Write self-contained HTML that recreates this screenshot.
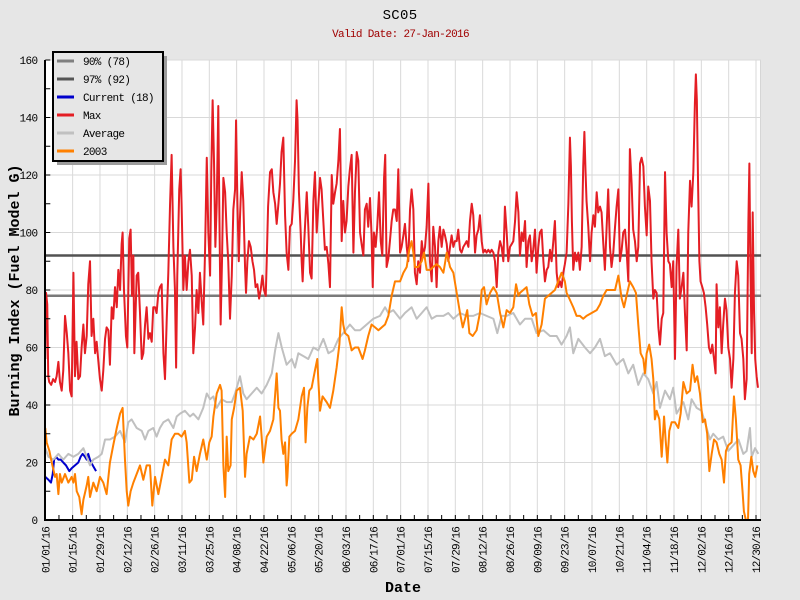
<!DOCTYPE html>
<html><head><meta charset="utf-8"><style>html,body{margin:0;padding:0;background:#e6e6e6;}svg{display:block;}</style></head><body>
<svg xmlns="http://www.w3.org/2000/svg" width="800" height="600" viewBox="0 0 800 600" font-family="'Liberation Mono', monospace">
<rect width="800" height="600" fill="#e6e6e6"/>
<rect x="45" y="60" width="716" height="460" fill="#ffffff"/>
<line x1="760.5" y1="60" x2="760.5" y2="520" stroke="#d6d6d6" stroke-width="1"/>
<g transform="translate(45.3,520) scale(1.9525,-2.875)" fill="none">
<path vector-effect="non-scaling-stroke" stroke="#d9d9d9" stroke-width="1" d="M0,20H366.6M0,40H366.6M0,60H366.6M0,80H366.6M0,100H366.6M0,120H366.6M0,140H366.6M0,160H366.6M14,0V160M28,0V160M42,0V160M56,0V160M70,0V160M84,0V160M98,0V160M112,0V160M126,0V160M140,0V160M154,0V160M168,0V160M182,0V160M196,0V160M210,0V160M224,0V160M238,0V160M252,0V160M266,0V160M280,0V160M294,0V160M308,0V160M322,0V160M336,0V160M350,0V160M364,0V160"/>
<path vector-effect="non-scaling-stroke" stroke="#7a7a7a" stroke-width="2.5" d="M-0.2,78H366.6"/>
<path vector-effect="non-scaling-stroke" stroke="#525252" stroke-width="2.5" d="M-0.2,92H366.6"/>
<polyline vector-effect="non-scaling-stroke" stroke="#0000cc" stroke-width="2" stroke-linejoin="round" points="0,15 1.6,14 2.9,13 3.8,16 4.5,21 5.5,22 6.7,21 7.9,21 9.2,20 10.6,19 12.3,17 13.5,18 15.2,19 16.9,20 18.1,22 19.1,23 20.3,22 21.2,21 22,23 22.9,21 24.3,19 26,17"/>
<polyline vector-effect="non-scaling-stroke" stroke="#e41e24" stroke-width="2" stroke-linejoin="round" points="0,56 0.4,79 1,75 1.5,50 2,48 3,47 4,49 5,48 5.8,50 6.7,55 7.5,48 8.4,45 9.2,52 10.1,71 11,65 11.8,58 12.7,45 13.5,43 14.4,86 15.2,50 16,62 16.9,49 17.8,50 18.6,60 19.5,68 20.3,58 21.2,64 22,82 22.9,90 23.7,64 24.6,70 25.5,58 26.3,62 27.2,55 28,49 28.9,45 29.7,52 30.6,63 31.4,67 32.3,66 33.1,54 34,74 34.8,70 35.7,81 36.6,74 37.4,87 38.3,80 39.1,96 39.6,100 40.3,80 41.3,64 42,60 43,98 43.7,101 44.4,78 45.1,92 45.6,58 46.8,85 47.6,86 48.5,72 49.4,56 50.2,58 51.1,68 51.9,74 52.8,63 53.6,65 54.5,62 55.3,74 56.2,74 57,72 57.9,79 58.7,81 59.6,82 60.5,58 61.3,49 62.2,70 63,86 63.9,110 64.7,127 65.6,95 66.4,80 67,53 67.6,85 68.6,115 69.3,122 69.8,110 70.7,80 71.5,92 72.4,80 73.3,90 74.1,94 75,85 75.8,58 76.7,67 77.5,80 78.4,72 79.2,86 80.1,76 80.9,68 81.8,93 82.7,126 83.5,100 84.4,85 85,121 85.7,146 86.4,125 87.1,95 87.8,110 88.6,144 89.1,110 89.8,68 90.5,90 91.2,119 92.1,114 92.9,100 93.7,90 94.6,70 95.5,85 96.3,108 97.2,115 97.7,139 98.4,110 99.1,90 99.7,105 100.6,121 101.4,111 102.3,88 102.8,79 103.5,90 104.3,97 105.2,95 106.1,90 106.9,87 107.7,81 108.6,82 109.5,77 110.3,80 111.2,85 112,80 112.9,78 113.4,90 114.1,109 115.1,121 116,122 116.8,114 117.7,110 118.5,103 119.4,110 120.2,117 121,128 121.9,133 122.8,106 123.6,93 124.5,87 125.3,102 126.2,103 127,111 127.9,125 128.7,146 129.2,139 129.9,114 130.8,100 131.3,90 131.8,83 132.5,95 133,102 133.9,114 134.7,102 135.6,86 136.4,84 137.3,111 138.1,121 139,100 139.8,109 140.7,119 141.5,115 142.4,104 143.2,94 144.1,95 145,89 145.8,81 146.7,120 147.5,110 148.4,114 149.2,117 150.1,125 150.9,136 151.8,97 152.6,111 153.5,100 154.3,104 155.2,116 156,122 156.9,127 157.8,93 158.6,114 159.5,128 160.3,125 161.2,100 162,96 162.9,92 163.7,108 164.6,110 165.4,102 166.3,112 167.1,99 167.7,81 168.3,100 169.2,95 170,102 170.9,114 171.8,97 172.6,92 173.5,119 174.1,127 174.8,88 175.7,91 176.5,97 177.4,104 178.2,108 179.1,108 180,104 180.8,122 181.7,93 182.5,95 183.4,99 184.2,103 185.1,95 185.9,90 186.8,108 187.6,115 188.5,108 189.3,86 190.2,82 191,90 191.9,86 192.8,97 193.6,92 194.5,95 195.3,102 196.2,117 197,90 197.9,83 198.7,102 199.6,95 200.4,81 201.3,97 202.1,102 203,95 203.9,101 204.7,99 205.6,96 206.4,90 207.3,95 208.1,99 209,95 209.8,97 210.7,97 211.5,101 212.4,94 213.2,93 214.1,95 215,96 215.8,97 216.7,95 217.5,104 218.4,110 219.2,106 220.1,93 220.9,99 221.8,101 222.6,106 223.5,97 224.3,93 225.2,94 226,93 226.9,94 227.8,93 228.6,94 229.5,93 230.3,90 231.2,81 232,93 232.9,97 233.7,95 234.6,90 235.4,109 236.3,100 237.1,90 238,95 238.9,96 239.7,97 240.6,104 241.4,114 242.3,107 243.1,92 244,100 244.8,97 245.7,104 246.5,88 247.4,97 248.2,99 249.1,90 249.9,94 250.8,101 251.6,86 252.5,95 253.3,100 254.2,101 255.1,90 255.9,83 256.8,87 257.6,88 258.5,94 259.3,90 260.2,97 261,104 261.9,86 262.7,81 263.6,83 264.4,81 265.3,86 266.1,89 267,93 267.9,110 268.7,133 269.2,123 269.7,104 270.4,87 271.3,93 272.1,90 273,93 273.8,87 274.7,95 275.5,123 276.1,135 276.7,121 277.2,111 278.1,102 279,90 279.8,100 280.7,106 281.5,102 282.4,114 283.2,107 284.1,109 284.9,107 285.8,96 286.6,87 287.5,102 288.3,115 289.2,95 290,88 290.9,93 291.8,102 292.6,109 293.5,115 294.3,90 295.2,94 296,100 296.9,101 297.7,94 298.6,83 299.4,129 300.3,117 301.1,101 302,97 302.9,90 303.7,95 304.6,124 305.4,126 306.3,123 307.1,109 308,99 308.8,116 309.7,111 310.5,90 311.4,77 312.2,80 313.1,79 314,67 314.8,61 315.7,70 316.5,72 317.4,121 318.2,100 319.1,90 319.9,89 320.8,81 321.6,90 322.5,56 323.3,88 324.2,101 325,77 325.9,81 326.8,86 327.6,72 328.5,59 329.3,100 330.2,118 331,109 331.9,121 332.7,145 333.2,155 333.7,146 334.3,118 335,90 335.6,83 336.5,81 337.3,79 338.2,74 339,68 339.9,60 340.8,58 341.6,61 342.5,56 343.3,51 343.8,82 344.7,67 345.5,74 346.4,58 347.2,68 348.1,77 348.9,73 349.8,60 350.7,56 351.5,46 352.4,56 353.2,79 354.1,90 354.9,85 355.8,65 356.6,63 357.5,56 358.3,42 359.2,49 360.1,104 360.6,124 361.1,90 361.8,58 362.3,107 363,72 363.6,56 364.3,50 365,46"/>
<polyline vector-effect="non-scaling-stroke" stroke="#c0c0c0" stroke-width="2" stroke-linejoin="round" points="0,25 1.6,22 4.1,21 6.7,23 9.2,21 11.8,23 14.4,22 16.9,23 19.5,25 21.2,22 22.9,19 24.6,21 27.2,22 28.9,23 30.6,28 33.1,28 35.7,29 38.3,31 40.8,27 42.5,34 44.2,35 46.8,32 49.4,31 51.1,28 52.8,31 55.3,32 57,29 58.7,32 60.5,34 63,35 65.6,32 67.3,36 69,37 71.5,38 74.1,36 75.8,37 78.4,35 80.9,39 82.7,44 84.4,42 86.1,43 87.8,39 90.3,42 92.9,41 95.5,41 97.2,44 99.7,50 101.4,44 103.1,42 105.7,44 108.3,46 110.8,44 113.4,47 116,51 117.7,59 119.4,65 121.1,60 123.6,54 126.2,56 127.9,53 129.6,58 132.2,57 134.7,56 137.3,60 139.8,59 142.4,63 145,58 147.5,59 150.1,63 152.6,65 156,68 158.6,66 161.2,66 164.6,68 168,70 171.4,71 174,74 175.7,72 178.2,73 181.7,70 184.2,72 187.6,74 190.2,70 192.8,72 195.3,74 197.9,70 200.4,71 203.9,71 206.4,72 209,70 212.4,72 215.8,71 219.2,71 222.6,72 226,71 229.5,70 231.5,65 233.7,71 236.3,71 239.7,72 243.1,68 245.7,70 249.1,70 251.6,65 255.1,66 258.5,64 261.9,64 264.4,61 267,64 268.7,67 270.4,58 273,63 276.4,60 279,58 281.5,60 284.1,63 286.6,57 289.2,58 292.6,54 296,56 298.6,51 301.1,54 303.7,47 306.3,51 308.8,49 311.4,44 313.1,48 314.8,39 317.4,45 319.9,42 321.6,46 323.3,37 326.8,41 329.3,35 331,42 333.6,39 336.1,38 338.7,32 340.4,28 342.1,30 344.7,28 347.2,29 349.8,24 352.4,26 355,28 357.5,23 359.2,24 360.9,32 361.8,22 363.5,25 365.2,23"/>
<polyline vector-effect="non-scaling-stroke" stroke="#ff8000" stroke-width="2" stroke-linejoin="round" points="0,32 0.7,27 2.1,24 3.3,20 5,15 5.8,16 6.7,9 7.5,16 8.4,13 10.1,16 11.8,13 13.5,15 14.4,13 15.2,16 16.1,10 17.4,8 18.6,2 19.5,7 21.2,12 22,15 22.9,8 24.6,13 26.3,10 28,15 29.7,13 31.4,9 33.1,20 34.8,26 36.6,32 38.3,37 39.6,39 40.8,21 41.7,10 42.5,5 43.7,10 45.1,13 46.8,16 48.5,19 50.2,14 51.9,19 53.6,19 54.8,5 56.2,15 57.9,9 59.6,15 61.3,21 63,19 64.7,28 66.4,30 68.1,30 69.8,29 71.5,31 72.4,27 73.8,13 75,14 76.2,22 77.5,17 79.2,23 80.9,28 82.7,21 84,27 85.2,29 86.1,36 87.8,44 89.5,47 90.3,45 91.2,19 92.1,8 92.9,29 93.7,17 94.9,19 95.5,35 96.7,39 98,45 99.7,46 101.1,38 102.3,15 103.1,23 104.8,29 106.6,28 108.3,30 110,36 110.8,29 111.7,20 113.4,29 115.1,31 116.8,35 118.5,51 119.4,39 120.2,38 121,28 121.9,23 122.8,27 123.6,12 124,15 125,29 126.2,30 127.9,31 129.6,35 131.3,43 132.5,46 133.3,27 134.2,39 135.2,45 136.4,46 138.1,52 139.3,56 139.8,49 140.7,38 142,43 144.1,41 145.8,39 147.5,45 149.2,53 150.6,61 151.8,74 152.6,68 153.5,65 155.2,64 156.9,59 158.6,60 160.3,60 162.5,56 163.7,59 165.4,64 167.1,68 168.9,67 170.6,66 172.3,67 174,68 175.7,71 177.4,78 179.1,83 181.7,83 183.4,86 185.1,88 186.4,94 187.6,97 188.5,93 189.3,88 191,88 192.8,90 194,93 195.3,87 197,87 198.7,88 200.4,89 202.1,88 203.9,86 205.6,93 207.3,88 209,86 210.7,79 212.4,72 213.8,67 215,70 216.1,73 217.2,65 218.9,64 220.9,66 222.6,72 223.5,80 224.7,81 226,75 227.8,79 229.5,81 231.2,79 232.9,72 234.6,67 236.3,73 238,72 239.7,74 241.1,82 242.3,78 243.1,79 244.8,80 246.5,81 247.9,75 249.6,71 251.3,72 252.5,64 254.2,68 255.9,77 257.6,78 259.3,79 261,80 262.7,83 264.4,86 266.1,83 267,79 268.4,77 270.4,74 272.1,71 273.8,71 275.5,70 277.2,71 279.8,72 282.4,73 284.1,75 285.8,78 287.5,80 290,80 291.8,80 293.5,85 295.2,77 296.4,74 297.7,78 299.4,83 301.1,81 302.5,79 303.7,68 304.9,58 306.3,56 307.1,51 308,58 309.3,61 310.5,56 311.4,49 312.2,35 313.1,38 314.5,35 315.7,22 316.9,36 317.7,28 318.6,20 319.6,31 320.8,34 322.5,34 324.2,32 325.4,37 326.8,48 328.5,44 330.2,45 331.5,54 332.7,48 333.9,50 335.3,44 336.7,34 337.9,35 339,30 340.1,17 341.3,23 342.5,28 343.8,27 345.2,23 346.4,21 347.6,13 348.6,24 349.8,26 351.5,27 352.7,43 353.7,35 354.9,21 356.1,19 357.1,10 357.8,3 358.8,0 359.9,0 360.5,16 361.6,22 362.6,17 363.6,15 364.7,19"/>
<path vector-effect="non-scaling-stroke" stroke="#000" stroke-width="1" d="M0,0V1.74M7,0V1.74M14,0V1.74M21,0V1.74M28,0V1.74M35,0V1.74M42,0V1.74M49,0V1.74M56,0V1.74M63,0V1.74M70,0V1.74M77,0V1.74M84,0V1.74M91,0V1.74M98,0V1.74M105,0V1.74M112,0V1.74M119,0V1.74M126,0V1.74M133,0V1.74M140,0V1.74M147,0V1.74M154,0V1.74M161,0V1.74M168,0V1.74M175,0V1.74M182,0V1.74M189,0V1.74M196,0V1.74M203,0V1.74M210,0V1.74M217,0V1.74M224,0V1.74M231,0V1.74M238,0V1.74M245,0V1.74M252,0V1.74M259,0V1.74M266,0V1.74M273,0V1.74M280,0V1.74M287,0V1.74M294,0V1.74M301,0V1.74M308,0V1.74M315,0V1.74M322,0V1.74M329,0V1.74M336,0V1.74M343,0V1.74M350,0V1.74M357,0V1.74M364,0V1.74M0,10H2.56M0,20H2.56M0,30H2.56M0,40H2.56M0,50H2.56M0,60H2.56M0,70H2.56M0,80H2.56M0,90H2.56M0,100H2.56M0,110H2.56M0,120H2.56M0,130H2.56M0,140H2.56M0,150H2.56M0,160H2.56"/>
</g>
<line x1="45" y1="60" x2="45" y2="521" stroke="#000" stroke-width="2"/>
<line x1="44" y1="520" x2="761" y2="520" stroke="#000" stroke-width="2"/>
<g font-size="11" letter-spacing="-0.6" text-anchor="end" fill="#000">
<text x="37.5" y="524">0</text>
<text x="37.5" y="466.5">20</text>
<text x="37.5" y="409">40</text>
<text x="37.5" y="351.5">60</text>
<text x="37.5" y="294">80</text>
<text x="37.5" y="236.5">100</text>
<text x="37.5" y="179">120</text>
<text x="37.5" y="121.5">140</text>
<text x="37.5" y="64">160</text>
</g>
<g font-size="11" letter-spacing="-0.85" text-anchor="end" fill="#000">
<text transform="translate(49.3,527) rotate(-90)">01/01/16</text>
<text transform="translate(76.6,527) rotate(-90)">01/15/16</text>
<text transform="translate(104,527) rotate(-90)">01/29/16</text>
<text transform="translate(131.3,527) rotate(-90)">02/12/16</text>
<text transform="translate(158.6,527) rotate(-90)">02/26/16</text>
<text transform="translate(186,527) rotate(-90)">03/11/16</text>
<text transform="translate(213.3,527) rotate(-90)">03/25/16</text>
<text transform="translate(240.6,527) rotate(-90)">04/08/16</text>
<text transform="translate(268,527) rotate(-90)">04/22/16</text>
<text transform="translate(295.3,527) rotate(-90)">05/06/16</text>
<text transform="translate(322.7,527) rotate(-90)">05/20/16</text>
<text transform="translate(350,527) rotate(-90)">06/03/16</text>
<text transform="translate(377.3,527) rotate(-90)">06/17/16</text>
<text transform="translate(404.7,527) rotate(-90)">07/01/16</text>
<text transform="translate(432,527) rotate(-90)">07/15/16</text>
<text transform="translate(459.3,527) rotate(-90)">07/29/16</text>
<text transform="translate(486.7,527) rotate(-90)">08/12/16</text>
<text transform="translate(514,527) rotate(-90)">08/26/16</text>
<text transform="translate(541.3,527) rotate(-90)">09/09/16</text>
<text transform="translate(568.7,527) rotate(-90)">09/23/16</text>
<text transform="translate(596,527) rotate(-90)">10/07/16</text>
<text transform="translate(623.3,527) rotate(-90)">10/21/16</text>
<text transform="translate(650.7,527) rotate(-90)">11/04/16</text>
<text transform="translate(678,527) rotate(-90)">11/18/16</text>
<text transform="translate(705.3,527) rotate(-90)">12/02/16</text>
<text transform="translate(732.7,527) rotate(-90)">12/16/16</text>
<text transform="translate(760,527) rotate(-90)">12/30/16</text>
</g>
<text x="400" y="19" font-size="14" text-anchor="middle" fill="#000" letter-spacing="0.3">SC05</text>
<text x="400.5" y="37" font-size="11" text-anchor="middle" fill="#a00000" letter-spacing="-0.65">Valid Date: 27-Jan-2016</text>
<text x="403" y="592" font-size="15" font-weight="bold" text-anchor="middle" fill="#000">Date</text>
<text transform="translate(19,290.5) rotate(-90)" font-size="15" font-weight="bold" text-anchor="middle" fill="#000">Burning Index (Fuel Model G)</text>
<rect x="57" y="56" width="110" height="109" fill="#9c9c9c"/>
<rect x="53" y="52" width="110" height="109" fill="#e6e6e6" stroke="#000" stroke-width="2"/>
<g stroke-width="3">
<line x1="57" y1="61" x2="74" y2="61" stroke="#808080"/>
<line x1="57" y1="79" x2="74" y2="79" stroke="#555555"/>
<line x1="57" y1="97" x2="74" y2="97" stroke="#0000cc"/>
<line x1="57" y1="115" x2="74" y2="115" stroke="#e41e24"/>
<line x1="57" y1="133" x2="74" y2="133" stroke="#c0c0c0"/>
<line x1="57" y1="151" x2="74" y2="151" stroke="#ff8000"/>
</g>
<g font-size="11" letter-spacing="-0.7" fill="#000">
<text x="83" y="65">90% (78)</text>
<text x="83" y="83">97% (92)</text>
<text x="83" y="101">Current (18)</text>
<text x="83" y="119">Max</text>
<text x="83" y="137">Average</text>
<text x="83" y="155">2003</text>
</g>
</svg>
</body></html>
